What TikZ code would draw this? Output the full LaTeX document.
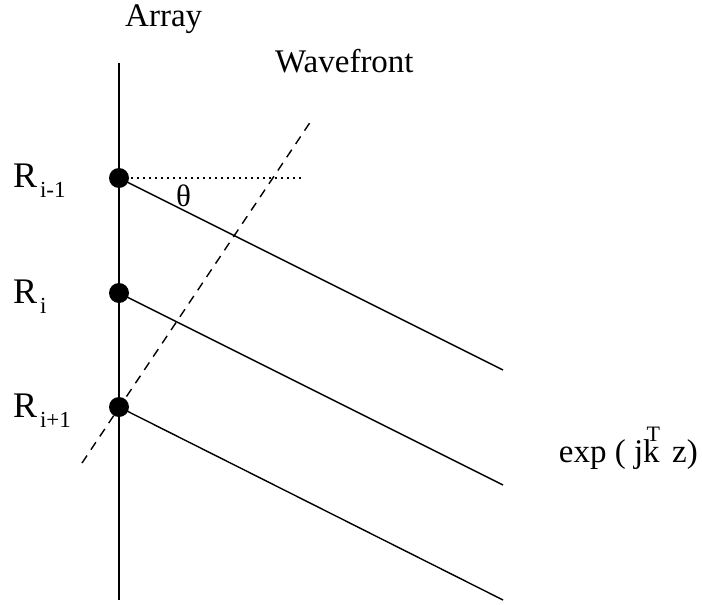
\documentclass[tikz,border=0pt]{standalone}
\usepackage{fontspec}
\setmainfont{Liberation Serif}
\begin{document}
\begin{tikzpicture}[x=1pt,y=-1pt,
  sensor/.style={circle,fill=black,minimum size=20pt,inner sep=0pt},
  ray/.style={line width=1.4pt},
  lbl/.style={inner sep=0pt,font=\fontsize{33}{36}\selectfont},
  wave/.style={line width=1.4pt,dash pattern=on 9pt off 7pt},
  horiz/.style={line width=1.3pt,dash pattern=on 2pt off 4pt}]
\useasboundingbox (0,0) rectangle (702,605);
% array axis
\coordinate (top) at (119,63);
\coordinate (bot) at (119,600);
\draw[line width=1.5pt] (top) -- (bot);
% sensors
\node[sensor] (r1) at (119,178) {};
\node[sensor] (r2) at (119,293) {};
\node[sensor] (r3) at (119,407) {};
% rays
\coordinate (e1) at (503,370);
\coordinate (e2) at (503,485);
\coordinate (e3) at (503,600);
\draw[ray] (r1.center) -- (e1);
\draw[ray] (r2.center) -- (e2);
\draw[ray] (r3.center) -- (e3);
% horizontal reference
\coordinate (h) at (302,178);
\draw[horiz] (r1.center) -- (h);
% wavefront
\coordinate (w1) at (82,463);
\coordinate (w2) at (311,121);
\draw[wave] (w1) -- (w2);
% labels
\node[lbl,anchor=base west] (arr) at (125,27) {Array};
\node[lbl,anchor=base west] (wf) at (275,72) {Wavefront};
\node[lbl,anchor=base west,font=\fontsize{31}{34}\selectfont] (th) at (176,206) {θ};
\node[lbl,anchor=base west,font=\fontsize{36}{40}\selectfont] (l1) at (13,187) {R\kern0.08em\raisebox{-0.28em}{\fontsize{23}{25}\selectfont i-1}};
\node[lbl,anchor=base west,font=\fontsize{36}{40}\selectfont] (l2) at (13,303) {R\kern0.08em\raisebox{-0.28em}{\fontsize{23}{25}\selectfont i}};
\node[lbl,anchor=base west,font=\fontsize{36}{40}\selectfont] (l3) at (13,417) {R\kern0.08em\raisebox{-0.28em}{\fontsize{23}{25}\selectfont i+1}};
\node[lbl,anchor=base east] (ex) at (698,462) {exp ( jk\kern-0.4em\raisebox{0.62em}{\fontsize{22}{24}\selectfont T}\kern0.12em\ z)};
\end{tikzpicture}
\end{document}
